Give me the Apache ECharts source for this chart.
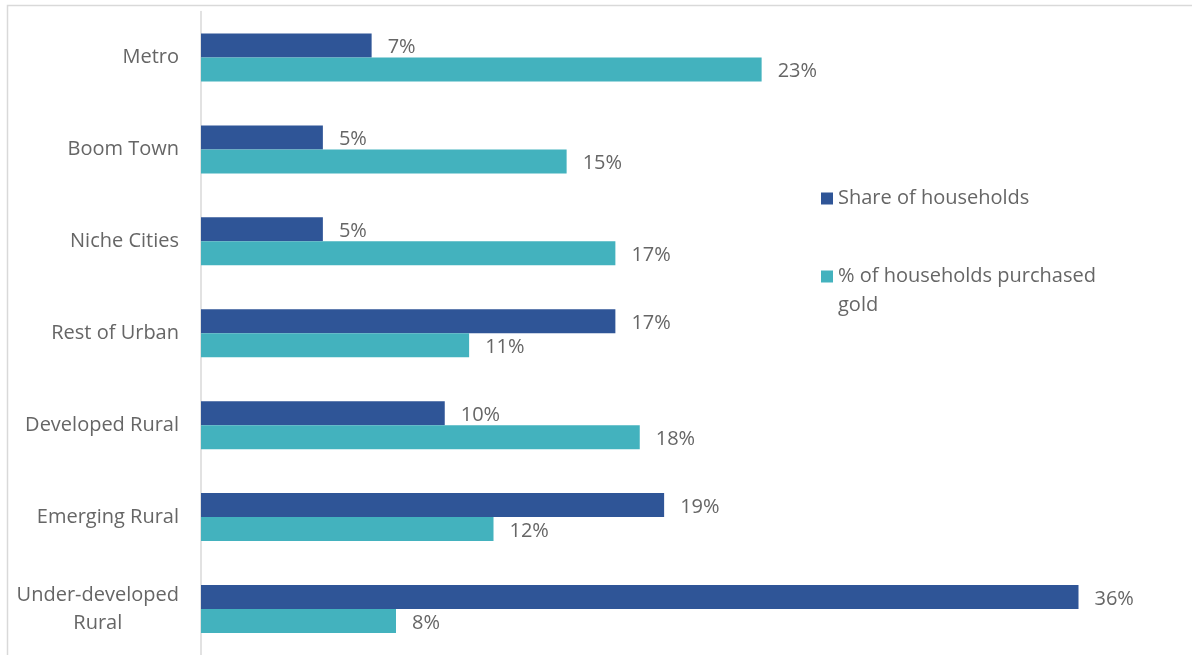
<!DOCTYPE html>
<html>
<head>
<meta charset="utf-8">
<script src="https://cdn.jsdelivr.net/npm/echarts@6/dist/echarts.min.js"></script>
<style>
  html, body { margin: 0; padding: 0; background: #fff; }
  #chart { width: 1192px; height: 655px; }
</style>
</head>
<body>
<div id="chart"></div>
<script>
// Household segments, top to bottom
const categories = [
  'Metro',
  'Boom Town',
  'Niche Cities',
  'Rest of Urban',
  'Developed Rural',
  'Emerging Rural',
  'Under-developed Rural'
];
// Values in percent
const shareOfHouseholds = [7, 5, 5, 17, 10, 19, 36];
const purchasedGold = [23, 15, 17, 11, 18, 12, 8];

const seriesNames = ['Share of households', '% of households purchased gold'];

const textColor = '#666666';
const fontFamily = '"Open Sans", "Noto Sans", sans-serif';
const fontSize = 20;

const chart = echarts.init(document.getElementById('chart'));

const labelStyle = {
  show: true,
  position: 'right',
  distance: 16,
  offset: [0, 2],
  color: textColor,
  fontFamily: fontFamily,
  fontSize: fontSize,
  formatter: p => p.value + '%'
};

chart.setOption({
  animation: false,
  backgroundColor: '#ffffff',
  graphic: [{
    type: 'rect',
    silent: true,
    shape: { x: 7.5, y: 5.5, width: 1300, height: 700 },
    style: { fill: 'none', stroke: '#d9d9d9', lineWidth: 1.5 }
  }],
  legend: {
    orient: 'vertical',
    left: 816,
    top: 179,
    itemWidth: 12,
    itemHeight: 12,
    itemGap: 20,
    icon: 'rect',
    textStyle: {
      color: textColor,
      fontFamily: fontFamily,
      fontSize: fontSize,
      lineHeight: 29
    },
    // the wrapped entry gets a leading blank line so its first line
    // sits level with the marker
    formatter: name => name === seriesNames[1]
      ? '\n% of households purchased\ngold'
      : name
  },
  grid: {
    left: 201,
    top: 11.5,
    width: 975,
    height: 645.5,
    containLabel: false
  },
  xAxis: {
    type: 'value',
    min: 0,
    max: 40,
    show: false
  },
  yAxis: {
    type: 'category',
    data: categories,
    inverse: true,
    axisLine: { show: true, lineStyle: { color: '#d9d9d9', width: 1.5 } },
    axisTick: { show: false },
    axisLabel: {
      margin: 22,
      color: textColor,
      fontFamily: fontFamily,
      fontSize: fontSize,
      lineHeight: 28,
      formatter: v => {
        if (v === 'Under-developed Rural') {
          return '{c|Under-developed}\n{c|Rural}';
        }
        return v;
      },
      rich: {
        c: {
          align: 'center',
          color: textColor,
          fontFamily: fontFamily,
          fontSize: fontSize,
          lineHeight: 28
        }
      }
    },
    splitLine: { show: false }
  },
  series: [
    {
      name: seriesNames[0],
      type: 'bar',
      data: shareOfHouseholds,
      barWidth: 24,
      barGap: '0%',
      itemStyle: { color: '#2F5597' },
      label: labelStyle
    },
    {
      name: seriesNames[1],
      type: 'bar',
      data: purchasedGold,
      barWidth: 24,
      barGap: '0%',
      itemStyle: { color: '#43B2BE' },
      label: labelStyle
    }
  ]
});
</script>
</body>
</html>
